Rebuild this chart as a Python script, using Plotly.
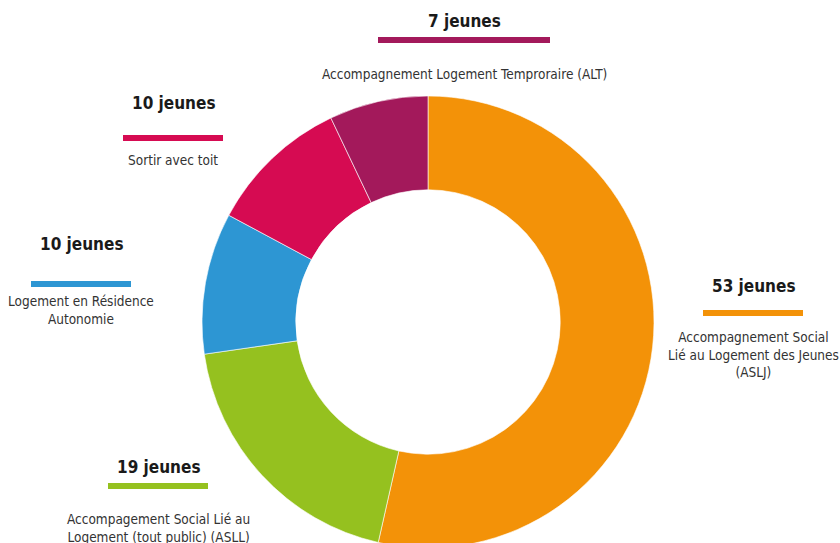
import plotly.graph_objects as go

labels = ["Accompagnement Social Lié au Logement des Jeunes (ASLJ)",
          "Accompagement Social Lié au Logement (tout public) (ASLL)",
          "Logement en Résidence Autonomie",
          "Sortir avec toit",
          "Accompagnement Logement Temproraire (ALT)"]
values = [53, 19, 10, 10, 7]
colors = ["#F39208", "#95C11F", "#2D96D3", "#D60B52", "#A3195B"]
titles = ["53 jeunes", "19 jeunes", "10 jeunes", "10 jeunes", "7 jeunes"]
descs = ["Accompagnement Social<br>Lié au Logement des Jeunes<br>(ASLJ)",
         "Accompagement Social Lié au<br>Logement (tout public) (ASLL)",
         "Logement en Résidence<br>Autonomie",
         "Sortir avec toit",
         "Accompagnement Logement Temproraire (ALT)"]

W, H = 840, 548
FONT = "DejaVu Sans Condensed, sans-serif"

def px(x):
    return x / W

def py(y):
    return 1 - y / H

fig = go.Figure(go.Pie(
    labels=labels, values=values, sort=False, direction="clockwise", rotation=0,
    hole=0.585, marker=dict(colors=colors, line=dict(color="white", width=0.6)),
    textinfo="none", hoverinfo="label+value", showlegend=False,
    domain=dict(x=[202 / W, 654 / W], y=[0, 452 / H]),
))

# label layout: (center x, title y, bar x0, bar x1, bar y, desc top y)
layout_pos = [
    (753, 286, 703, 803, 313, 327),
    (158, 467, 108, 208, 486, 509),
    (81, 244, 31, 131, 284, 291),
    (173, 103, 123, 223, 138, 150),
    (464, 21, 378, 550, 40, 64),
]

for i, (cx, ty, bx0, bx1, by, dy) in enumerate(layout_pos):
    fig.add_annotation(x=px(cx), y=py(ty), xref="paper", yref="paper",
                       text="<b>" + titles[i] + "</b>", showarrow=False,
                       xanchor="center", yanchor="middle",
                       font=dict(family=FONT, size=17, color="#1a1a1a"))
    fig.add_shape(type="line", xref="paper", yref="paper",
                  x0=px(bx0), x1=px(bx1), y0=py(by), y1=py(by),
                  line=dict(color=colors[i], width=6))
    fig.add_annotation(x=px(cx), y=py(dy), xref="paper", yref="paper",
                       text=descs[i], showarrow=False,
                       xanchor="center", yanchor="top", align="center",
                       font=dict(family=FONT, size=13.5, color="#333333"))

fig.update_layout(width=W, height=H, margin=dict(l=0, r=0, t=0, b=0),
                  paper_bgcolor="white", plot_bgcolor="white")

fig.write_html("out.html", config={"displayModeBar": False},
               post_script="document.body.style.margin='0';document.body.style.overflow='hidden';document.documentElement.style.overflow='hidden';")
